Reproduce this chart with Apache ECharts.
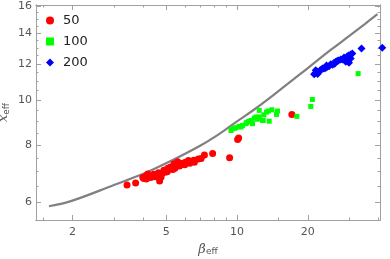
<!DOCTYPE html>
<html><head><meta charset="utf-8">
<script src="https://cdn.jsdelivr.net/npm/echarts@6/dist/echarts.min.js"></script>
<style>html,body{margin:0;padding:0;background:#fff}#c{width:390px;height:259px}</style>
</head><body><div id="c"></div>
<script>
// axis ranges and ticks (real values, log scale)
const xRange = [1.4, 40.5];
const yRange = [5.5, 16.1];
const xMajorTicks = [2, 5, 10, 20];
const xMinorTicks = [1.5, 3, 4, 6, 7, 8, 9, 15, 30, 40];
const yMajorTicks = [6, 8, 10, 12, 14, 16];
const yMinorTicks = [6.5, 7, 7.5, 8.5, 9, 9.5, 10.5, 11, 11.5, 12.5, 13, 13.5, 14.5, 15, 15.5];

const seriesNames = ['50', '100', '200'];
// [beta_eff, x_eff]
const red50 = [
  [3.41,6.55],[3.71,6.62],[4.02,6.77],[3.98,6.80],[4.12,6.86],[4.18,6.92],[4.12,6.75],
  [4.39,6.86],[4.43,6.91],[4.49,6.83],[4.69,6.68],[4.76,6.82],[4.64,6.96],[4.89,7.05],
  [5.00,7.04],[5.08,7.12],[5.22,7.17],[5.34,7.08],[5.51,7.22],[5.60,7.36],[5.79,7.26],
  [6.04,7.34],[6.22,7.40],[6.55,7.41],[6.59,7.34],[6.85,7.46],[7.04,7.48],[7.27,7.61],
  [7.88,7.67],[9.30,7.51],[10.06,8.22],[10.16,8.28],[17.1,9.32],
  [4.55,6.90],[4.80,6.95],[4.95,6.98],[5.15,7.08],[5.30,7.15],[5.45,7.12],[5.70,7.20],
  [5.90,7.30],[4.30,6.80],[4.60,6.85],[5.05,7.00],[5.40,7.28],[6.30,7.30],[6.00,7.25]
];
const green100 = [
  [9.43,8.60],[9.58,8.67],[9.74,8.70],[10.56,8.82],[10.92,8.90],[11.46,9.04],[11.84,9.15],
  [12.43,9.20],[12.84,9.04],[11.64,8.90],[12.04,9.20],[12.92,9.04],[13.35,9.43],[14.07,9.54],
  [14.72,9.32],[14.86,9.48],[13.70,9.01],[12.43,9.51],[13.60,9.48],[17.96,9.23],[20.58,9.70],
  [20.90,10.04],[32.7,11.43],[10.2,8.78],[11.0,8.95],[11.2,9.00],[12.2,9.10],[13.0,9.30],
  [10.4,8.75],[9.9,8.72]
];
const blue200 = [
  [21.26,11.39],[21.96,11.53],[22.70,11.63],[23.05,11.73],[23.44,11.73],[24.20,11.82],
  [24.61,11.86],[25.02,11.98],[25.84,12.06],[26.28,12.12],[26.69,12.18],[27.59,12.27],
  [28.03,12.27],[28.50,12.39],[29.42,12.47],[29.91,12.53],[30.42,12.58],[30.89,12.64],
  [29.91,12.06],[28.97,12.12],[30.42,12.33],[33.80,12.96],[41.4,13.00],
  [21.5,11.45],[22.2,11.50],[22.5,11.60],[23.8,11.75],[21.6,11.62],[22.0,11.40],
  [24.0,11.90],[25.5,11.95],[27.0,12.20],[26.0,12.00]
];
const curveBeta = [1.59, 2, 3, 4, 5, 7, 8.6, 10, 12, 15, 20, 25, 30, 35, 39.5];
const curveX    = [5.89, 6.06, 6.55, 6.93, 7.3, 7.98, 8.52, 9.0, 9.6, 10.47, 11.75, 12.86, 13.8, 14.66, 15.38];

const L = Math.log10;
const toLog = arr => arr.map(([b, x]) => [L(b), L(x)]);
const fmt = v => String(Math.round(Math.pow(10, v) * 10) / 10);

const lineCol = '#a0a0a0';
const labCol = '#555';

function xAx(pos, ticks, len, showLabel) {
  return {
    type: 'value', position: pos, min: L(xRange[0]), max: L(xRange[1]),
    axisLine: { show: true, onZero: false, lineStyle: { color: lineCol, width: 1 } },
    axisTick: { show: true, inside: true, length: len, customValues: ticks.map(L), lineStyle: { color: lineCol } },
    axisLabel: { show: showLabel, customValues: ticks.map(L), formatter: fmt, color: labCol, fontSize: 11, fontFamily: 'DejaVu Sans', margin: 7 },
    splitLine: { show: false }
  };
}
function yAx(pos, ticks, len, showLabel) {
  return {
    type: 'value', position: pos, min: L(yRange[0]), max: L(yRange[1]),
    axisLine: { show: true, onZero: false, lineStyle: { color: lineCol, width: 1 } },
    axisTick: { show: true, inside: true, length: len, customValues: ticks.map(L), lineStyle: { color: lineCol } },
    axisLabel: { show: showLabel, customValues: ticks.map(L), formatter: fmt, color: labCol, fontSize: 11, fontFamily: 'DejaVu Sans', margin: 4 },
    splitLine: { show: false }
  };
}

const nameRich = {
  b: { fontStyle: 'italic', fontSize: 13, color: labCol, fontFamily: 'DejaVu Serif' },
  s: { fontSize: 9, color: labCol, fontFamily: 'DejaVu Sans', padding: [5, 0, 0, 0] }
};

const xAxes = [
  xAx('bottom', xMajorTicks, 5, true),
  xAx('bottom', xMinorTicks, 2.5, false),
  xAx('top', xMajorTicks, 5, false),
  xAx('top', xMinorTicks, 2.5, false)
];
xAxes[0].name = '{b|β}{s|eff}';
xAxes[0].nameLocation = 'middle';
xAxes[0].nameGap = 21;
xAxes[0].nameTextStyle = { rich: nameRich };

const yAxes = [
  yAx('left', yMajorTicks, 5, true),
  yAx('left', yMinorTicks, 2.5, false),
  yAx('right', yMajorTicks, 5, false),
  yAx('right', yMinorTicks, 2.5, false)
];
yAxes[0].name = '{b|x}{s|eff}';
yAxes[0].nameLocation = 'middle';
yAxes[0].nameGap = 25;
yAxes[0].nameMoveOverlap = false;
yAxes[0].nameRotate = 90;
yAxes[0].nameTextStyle = { rich: nameRich };

const chart = echarts.init(document.getElementById('c'), null, { renderer: 'canvas' });
chart.setOption({
  animation: false,
  backgroundColor: '#fff',
  grid: { left: 36, right: 10, top: 5, bottom: 39, containLabel: false, outerBoundsMode: 'none' },
  xAxis: xAxes,
  yAxis: yAxes,
  legend: {
    orient: 'vertical', left: 41, top: 9, itemGap: 8, itemWidth: 8, itemHeight: 8,
    textStyle: { fontSize: 13, color: '#222', fontFamily: 'DejaVu Sans', padding: [0, 0, 0, 4] },
    data: [
      { name: seriesNames[0], icon: 'circle' },
      { name: seriesNames[1], icon: 'rect' },
      { name: seriesNames[2], icon: 'diamond' }
    ]
  },
  series: [
    { type: 'line', data: curveBeta.map((b, i) => [L(b), L(curveX[i])]), smooth: 0.4, showSymbol: false,
      lineStyle: { color: '#808080', width: 2.2 }, silent: true, z: 1 },
    { name: seriesNames[0], type: 'scatter', data: toLog(red50), symbol: 'circle', symbolSize: 7,
      itemStyle: { color: '#ff0000', opacity: 1 }, z: 3 },
    { name: seriesNames[1], type: 'scatter', data: toLog(green100), symbol: 'rect', symbolSize: 5,
      itemStyle: { color: '#00ff00', opacity: 1 }, z: 3 },
    { name: seriesNames[2], type: 'scatter', data: toLog(blue200), symbol: 'diamond', symbolSize: 8,
      itemStyle: { color: '#0000ff', opacity: 1 }, clip: false, z: 3 }
  ]
});
</script>
</body></html>
